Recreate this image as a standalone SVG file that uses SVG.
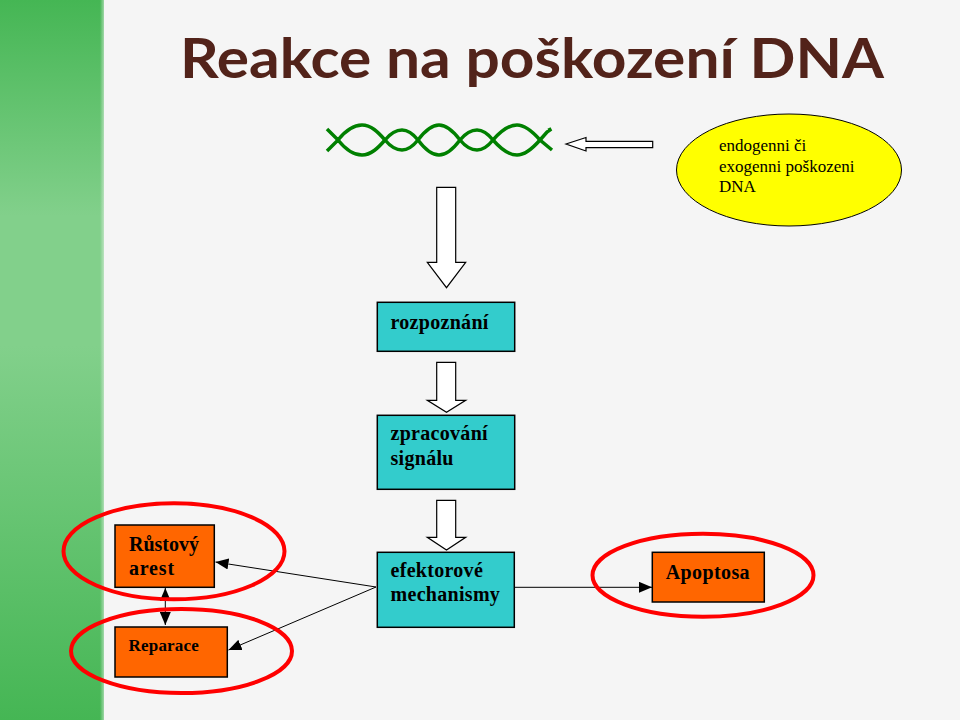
<svg xmlns="http://www.w3.org/2000/svg" width="960" height="720" viewBox="0 0 960 720">
<defs>
<linearGradient id="band" x1="0" y1="0" x2="0" y2="1">
<stop offset="0" stop-color="#45b654"/>
<stop offset="0.3" stop-color="#82d08b"/>
<stop offset="0.48" stop-color="#82d08b"/>
<stop offset="1" stop-color="#45b654"/>
</linearGradient>
<linearGradient id="edge" x1="0" y1="0" x2="1" y2="0">
<stop offset="0" stop-color="#f5f5f5" stop-opacity="0"/>
<stop offset="1" stop-color="#f5f5f5" stop-opacity="1"/>
</linearGradient>
<marker id="ah" viewBox="0 0 13 11" refX="13" refY="5.5" markerUnits="userSpaceOnUse" markerWidth="13" markerHeight="11" orient="auto-start-reverse">
<path d="M0,0 L13,5.5 L0,11 z" fill="#000"/>
</marker>
<style>
.box{stroke:#000;stroke-width:1.5}
.teal{fill:#33cccc}
.orange{fill:#ff6600}
.ring{fill:none;stroke:#ff0000;stroke-width:4}
.lbl{font-family:"Liberation Serif","Times New Roman",serif;font-weight:bold;font-size:20px;fill:#000}
.small{font-size:17px}
.hollow{fill:#fff;stroke:#000;stroke-width:1.2}
.conn{stroke:#000;stroke-width:1;fill:none}
.helix{fill:none;stroke:#008000;stroke-width:3.5;stroke-linecap:butt}
</style>
</defs>
<rect width="960" height="720" fill="#f5f5f5"/>
<rect x="0" y="0" width="104" height="720" fill="url(#band)"/>
<rect x="100" y="0" width="8" height="720" fill="url(#edge)"/>

<text x="180" y="78" font-family="Lato, 'Open Sans', 'Liberation Sans', sans-serif" font-weight="bold" font-size="56" fill="#52231a" textLength="704" lengthAdjust="spacingAndGlyphs">Reakce na poškození DNA</text>

<g id="dna">
<path class="helix" d="M327,129 L338,140 C346,130 354,125 362,125 C371,125 378,132 385,140 C390,146 396,150 402,150 C409,150 414,145 418,140 C424,132 431,125 439,125 C447,125 454,132 460,140 C465,146 470,150 477,150 C484,150 489,145 493,140 C500,132 508,125 517,125 C525,125 533,132 540,140 L552,150"/>
<path class="helix" d="M327,151 L338,140 C346,150 354,155 362,155 C371,155 378,148 385,140 C390,134 396,130 402,130 C409,130 414,135 418,140 C424,148 431,155 439,155 C447,155 454,148 460,140 C465,134 470,130 477,130 C484,130 489,135 493,140 C500,148 508,155 517,155 C525,155 533,148 540,140 L547,132 L550,130 L549,128"/>
</g>

<g id="damage">
<ellipse cx="789" cy="170" rx="112.5" ry="56" fill="#ffff00" stroke="#000" stroke-width="1"/>
<text font-family="'Liberation Serif','Times New Roman',serif" font-size="17" fill="#000">
<tspan x="719" y="151">endogenni či</tspan>
<tspan x="719" y="172">exogenni poškozeni</tspan>
<tspan x="719" y="192">DNA</tspan>
</text>
</g>

<g id="arrows-hollow">
<polygon class="hollow" points="566,144 586,137.5 586,141.3 652.7,141.3 652.7,147.7 586,147.7 586,151"/>
<polygon class="hollow" points="436.7,187.3 455.7,187.3 455.7,262.3 465.7,262.3 446.5,287.7 427.3,262.3 436.7,262.3"/>
<polygon class="hollow" points="436.7,362.3 455.7,362.3 455.7,400.3 465.7,400.3 446.5,412.3 427.3,400.3 436.7,400.3"/>
<polygon class="hollow" points="436.7,500.3 455.7,500.3 455.7,537.3 465.7,537.3 446.5,550 427.3,537.3 436.7,537.3"/>
</g>

<g id="rozpoznani">
<rect class="box teal" x="377.3" y="302.3" width="137.4" height="49"/>
<text class="lbl" x="390.5" y="329" letter-spacing="0.3">rozpoznání</text>
</g>

<g id="zpracovani">
<rect class="box teal" x="377.3" y="415.3" width="137.4" height="74"/>
<text class="lbl" x="390.5" y="440" letter-spacing="0.3">zpracování</text>
<text class="lbl" x="390.5" y="465" letter-spacing="0.3">signálu</text>
</g>

<g id="efektorove">
<rect class="box teal" x="377.3" y="552.3" width="137" height="75"/>
<text class="lbl" x="390.5" y="577" letter-spacing="0.3">efektorové</text>
<text class="lbl" x="390.5" y="601" letter-spacing="0.3">mechanismy</text>
</g>

<g id="rustovy">
<rect class="box orange" x="115" y="525" width="99.3" height="62.3"/>
<text class="lbl" x="129" y="551">Růstový</text>
<text class="lbl" x="129" y="575" letter-spacing="0.8">arest</text>
</g>

<g id="reparace">
<rect class="box orange" x="115" y="627" width="112.3" height="50"/>
<text class="lbl small" x="128.5" y="651" letter-spacing="0.2">Reparace</text>
</g>

<g id="apoptosa">
<rect class="box orange" x="652.3" y="552.3" width="112" height="49.7"/>
<text class="lbl" x="665.7" y="579" letter-spacing="0.4">Apoptosa</text>
</g>

<g id="connectors">
<line class="conn" x1="376" y1="587" x2="215.5" y2="562" marker-end="url(#ah)"/>
<line class="conn" x1="376" y1="587" x2="228.5" y2="650" marker-end="url(#ah)"/>
<line class="conn" x1="514.3" y1="587.3" x2="652" y2="587.3" marker-end="url(#ah)"/>
<line class="conn" x1="165.3" y1="588" x2="165.3" y2="625" marker-start="url(#ah)" marker-end="url(#ah)"/>
</g>

<g id="highlights">
<ellipse class="ring" cx="174" cy="551.3" rx="110.5" ry="48"/>
<ellipse class="ring" cx="181.5" cy="651" rx="110.5" ry="42"/>
<ellipse class="ring" cx="703" cy="575.3" rx="110.5" ry="41.5"/>
</g>
</svg>
